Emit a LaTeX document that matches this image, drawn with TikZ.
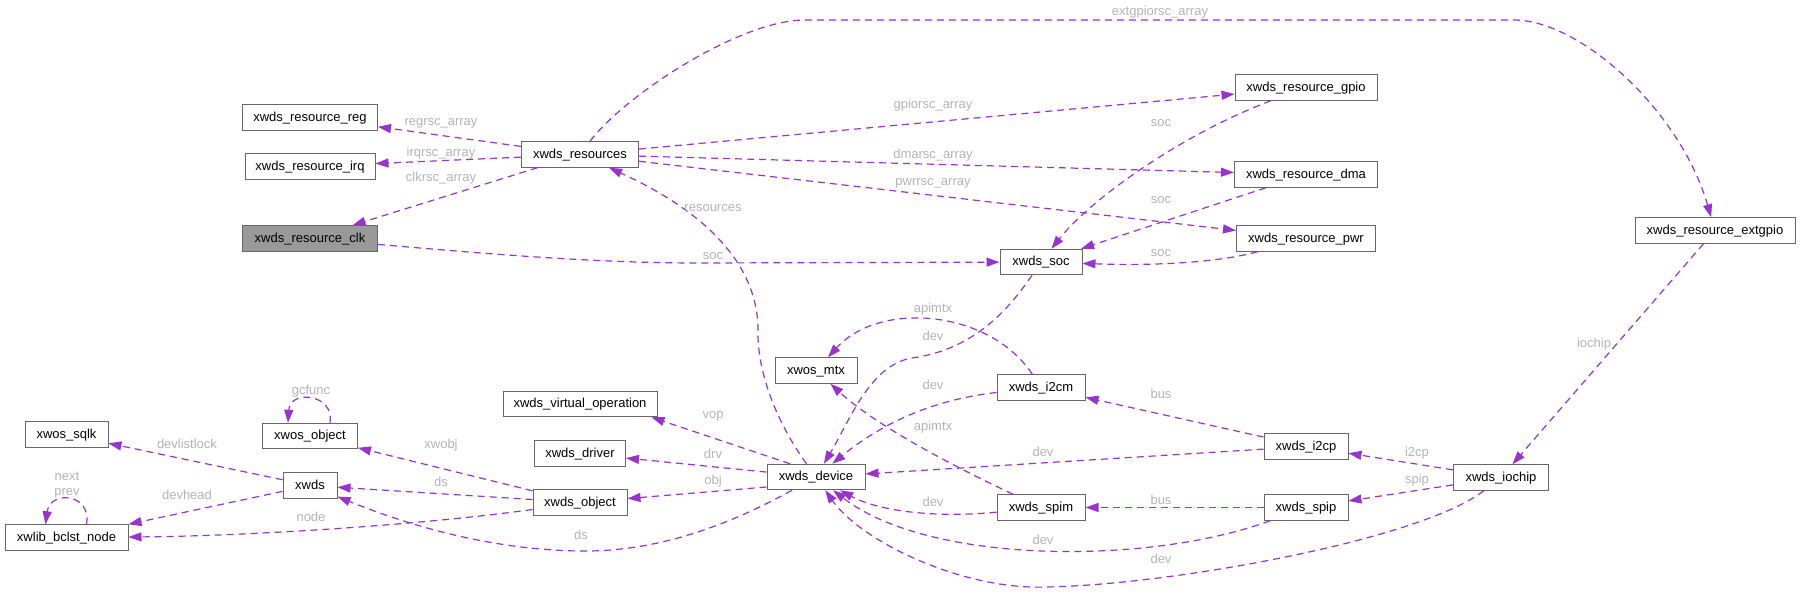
\documentclass[tikz,border=0pt]{standalone}
\usepackage{fontspec}
\setmainfont{Liberation Sans}
\usetikzlibrary{arrows.meta}
\definecolor{bordo}{HTML}{666666}
\definecolor{grigio}{HTML}{999999}
\definecolor{viola}{HTML}{9A32CD}
\definecolor{etic}{HTML}{B4B4B4}
\tikzset{
  box/.style={draw=bordo, line width=1pt, fill=white, inner sep=0pt,
    minimum height=25.5pt, text height=9.5pt, text depth=2.5pt,
    font=\fontsize{13}{15}\selectfont},
  boxhl/.style={box, fill=grigio},
  dep/.style={draw=viola, line width=1.2pt, dash pattern=on 7pt off 5pt,
    -{Triangle[length=13pt,width=9pt]}},
  lbl/.style={text=etic, inner sep=0pt, font=\fontsize{13}{15}\selectfont}
}
\begin{document}
\begin{tikzpicture}[x=1pt,y=-1pt]
            \useasboundingbox (0,0) rectangle (1800,592);
            \fill[white] (0,0) rectangle (1800,592);

            % Risorse
            \node[box, minimum width=135pt] (reg) at (310,117.5) {xwds\_resource\_reg};
            \node[box, minimum width=130pt] (irq) at (310,166.5) {xwds\_resource\_irq};
            \node[boxhl, minimum width=135pt] (clk) at (310,238.5) {xwds\_resource\_clk};
            \node[box, minimum width=117pt] (res) at (580,154.5) {xwds\_resources};
            \node[box, minimum width=142pt] (gpio) at (1306,87.5) {xwds\_resource\_gpio};
            \node[box, minimum width=143pt] (dma) at (1306,174.5) {xwds\_resource\_dma};
            \node[box, minimum width=139pt] (pwr) at (1306,238.5) {xwds\_resource\_pwr};
            \node[box, minimum width=82pt] (soc) at (1041,262) {xwds\_soc};
            \node[box, minimum width=160pt] (ext) at (1715,230.5) {xwds\_resource\_extgpio};

            % Oggetti
            \node[box, minimum width=83pt] (sqlk) at (66.5,434.5) {xwos\_sqlk};
            \node[box, minimum width=95pt] (osobj) at (310,436) {xwos\_object};
            \node[box, minimum width=54pt] (xwds) at (310,485.5) {xwds};
            \node[box, minimum width=123pt] (bclst) at (66.5,537.5) {xwlib\_bclst\_node};
            \node[box, minimum width=154pt] (vop) at (580,404) {xwds\_virtual\_operation};
            \node[box, minimum width=91pt] (drv) at (580,453.5) {xwds\_driver};
            \node[box, minimum width=94pt] (obj) at (580,502.5) {xwds\_object};

            % Dispositivi
            \node[box, minimum width=82pt] (mtx) at (816,370.5) {xwos\_mtx};
            \node[box, minimum width=88pt] (i2cm) at (1041,387.5) {xwds\_i2cm};
            \node[box, minimum width=98pt] (dev) at (816,477) {xwds\_device};
            \node[box, minimum width=88pt] (spim) at (1041,507.5) {xwds\_spim};
            \node[box, minimum width=84pt] (i2cp) at (1306,446.5) {xwds\_i2cp};
            \node[box, minimum width=84pt] (spip) at (1306,507.5) {xwds\_spip};
            \node[box, minimum width=95pt] (iochip) at (1501,477.5) {xwds\_iochip};

            % Archi da xwds_resources
            \draw[dep] (res) -- (reg) node[lbl] (l1) at (441,123) {regrsc\_array};
            \draw[dep] (res) -- (irq) node[lbl] (l2) at (441,153) {irqrsc\_array};
            \draw[dep] (res) -- (clk) node[lbl] (l3) at (441,178) {clkrsc\_array};
            \draw[dep] (res) .. controls (625,95) and (740,20) .. (805,20) -- (1514,20)
                .. controls (1580,20) and (1680,110) .. (ext)
                node[lbl] (l4) at (1160,12) {extgpiorsc\_array};
            \draw[dep] (res) -- (gpio) node[lbl] (l5) at (933,105) {gpiorsc\_array};
            \draw[dep] (res) -- (dma) node[lbl] (l6) at (933,155) {dmarsc\_array};
            \draw[dep] (res) -- (pwr) node[lbl] (l7) at (933,183) {pwrrsc\_array};

            % Archi verso xwds_soc
            \draw[dep] (clk) .. controls (500,255) and (600,263) .. (700,263) -- (soc)
                node[lbl] (l8) at (713,256) {soc};
            \draw[dep] (gpio) .. controls (1180,135) and (1090,200) .. (soc)
                node[lbl] (l9) at (1161,123) {soc};
            \draw[dep] (dma) -- (soc) node[lbl] (l10) at (1161,200) {soc};
            \draw[dep] (pwr) .. controls (1220,262) and (1160,266) .. (soc)
                node[lbl] (l11) at (1161,253) {soc};

            % Archi da xwds_device e verso xwds_device
            \draw[dep] (dev) .. controls (775,420) and (757,370) .. (758,330)
                .. controls (758,250) and (680,200) .. (res)
                node[lbl] (l12) at (713,208) {resources};
            \draw[dep] (soc) .. controls (1005,315) and (970,350) .. (912,358)
                .. controls (870,365) and (850,420) .. (dev)
                node[lbl] (l13) at (933,336) {dev};
            \draw[dep] (i2cm) .. controls (990,310) and (880,300) .. (mtx)
                node[lbl] (l14) at (933,309) {apimtx};
            \draw[dep] (i2cm) .. controls (930,400) and (880,425) .. (dev)
                node[lbl] (l15) at (933,385) {dev};
            \draw[dep] (spim) .. controls (930,455) and (870,420) .. (mtx)
                node[lbl] (l16) at (933,427) {apimtx};
            \draw[dep] (spim) .. controls (940,518) and (880,512) .. (dev)
                node[lbl] (l17) at (933,502) {dev};
            \draw[dep] (i2cp) -- (i2cm) node[lbl] (l18) at (1161,394) {bus};
            \draw[dep] (i2cp) -- (dev) node[lbl] (l19) at (1043,452) {dev};
            \draw[dep] (spip) -- (spim) node[lbl] (l20) at (1161,500) {bus};
            \draw[dep] (spip) .. controls (1150,565) and (930,565) .. (dev)
                node[lbl] (l21) at (1043,540) {dev};
            \draw[dep] (iochip) -- (i2cp) node[lbl] (l22) at (1417,453) {i2cp};
            \draw[dep] (iochip) -- (spip) node[lbl] (l23) at (1417,480) {spip};
            \draw[dep] (iochip) .. controls (1420,540) and (1170,585) .. (1046,587)
                .. controls (960,590) and (860,540) .. (dev)
                node[lbl] (l24) at (1161,559) {dev};
            \draw[dep] (ext) -- (iochip) node[lbl] (l25) at (1594,344) {iochip};
            \draw[dep] ([xshift=-26pt]dev.north) -- ([xshift=-6pt]vop.south east)
                node[lbl] (l26) at (713,416) {vop};
            \draw[dep] (dev) -- (drv) node[lbl] (l27) at (713,454) {drv};
            \draw[dep] ([yshift=-10pt]dev.west) -- (obj) node[lbl] (l28) at (713,481) {obj};
            \draw[dep] (dev) .. controls (720,530) and (650,552) .. (580,551)
                .. controls (500,550) and (420,530) .. (xwds)
                node[lbl] (l29) at (581,535) {ds};

            % Archi da xwds_object e xwds
            \draw[dep] (obj) -- (osobj) node[lbl] (l30) at (441,445) {xwobj};
            \draw[dep] (obj) -- (xwds) node[lbl] (l31) at (441,482) {ds};
            \draw[dep] ([yshift=-7pt]obj.west) .. controls (420,525) and (250,536) .. (bclst)
                node[lbl] (l32) at (311,517) {node};
            \draw[dep] (xwds) -- (sqlk) node[lbl] (l33) at (187,444) {devlistlock};
            \draw[dep] (xwds) -- (bclst) node[lbl] (l34) at (187,495) {devhead};

            % Anelli
            \draw[dep] ([xshift=20pt]bclst.north) .. controls (92,493) and (50,490) .. ([xshift=-21pt]bclst.north)
                node[lbl, align=center] (l35) at (67,485.5) {next\\prev};
            \draw[dep] ([xshift=20pt]osobj.north) .. controls (335,394) and (290,389) .. ([xshift=-22pt]osobj.north)
                node[lbl] (l36) at (311,391) {gcfunc};
\end{tikzpicture}
\end{document}
